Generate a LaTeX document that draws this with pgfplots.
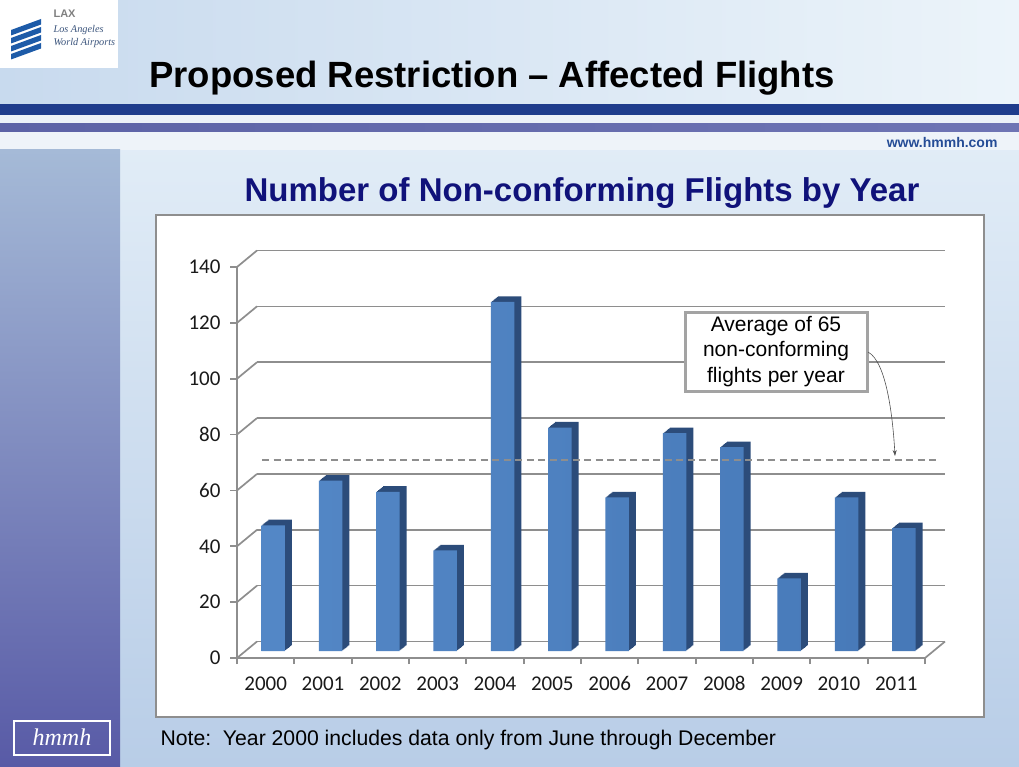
\documentclass[border=0pt]{standalone}
\usepackage{fontspec}
\setmainfont{Liberation Sans}
\newfontfamily\calibri{Carlito}
\newfontfamily\logoserif{Liberation Serif}
\usepackage{pgfplots}
\pgfplotsset{compat=1.18}
\usepackage{pgfplotstable}
\usetikzlibrary{arrows.meta}

\definecolor{barfront}{HTML}{4779B8}
\definecolor{barlight}{HTML}{5387C6}
\definecolor{barside}{HTML}{2C4C7A}
\definecolor{gridgray}{HTML}{8E8E8E}
\definecolor{boxgray}{HTML}{A3A3A3}
\definecolor{arrowgray}{HTML}{505050}
\definecolor{ticktext}{HTML}{1A1A1A}
\definecolor{navy}{HTML}{1F3C8C}
\definecolor{purpleband}{HTML}{5C62A6}
\definecolor{purplelight}{HTML}{6E74B4}
\definecolor{titlenavy}{HTML}{10127A}
\definecolor{urlblue}{HTML}{254C96}
\definecolor{laxblue}{HTML}{1D5BA8}
\definecolor{laxtext}{HTML}{3C557D}
\definecolor{bgtop}{HTML}{E2EDF7}
\definecolor{bgbottom}{HTML}{B8CDE7}
\definecolor{hdrleft}{HTML}{C8DAEE}
\definecolor{hdrright}{HTML}{ECF4FA}
\definecolor{gapband}{HTML}{ECF1F8}
\definecolor{paleband}{HTML}{EEF3F9}
\definecolor{stripa}{HTML}{A5BAD7}
\definecolor{stripb}{HTML}{6286B3}
\definecolor{stripc}{HTML}{585AA6}

% number of non-conforming flights per year
\pgfplotstableread{
idx year count
0 2000 45
1 2001 61
2 2002 57
3 2003 36
4 2004 125
5 2005 80
6 2006 55
7 2007 78
8 2008 73
9 2009 26
10 2010 55
11 2011 44
}\flights

\begin{document}
\begin{tikzpicture}[x=1pt,y=1pt]
\path[use as bounding box] (0,0) rectangle (1019,-767);

% slide background
\shade[top color=bgtop, bottom color=bgbottom] (0,-132) rectangle (1019,-767);
\shade[left color=hdrleft, right color=hdrright] (0,0) rectangle (1019,-104);
\fill[white] (0,0) rectangle (118,-68);
\fill[navy] (0,-104) rectangle (1019,-115);
\fill[gapband] (0,-115) rectangle (1019,-124);
\shade[left color=purpleband, right color=purplelight] (0,-124) rectangle (1019,-132);
\fill[paleband] (0,-132) rectangle (1019,-150);
\shade[top color=stripa, middle color=stripb, bottom color=stripc] (0,-150) rectangle (120,-767);

% LAX logo
\foreach \i in {0,1,2,3}{
  \fill[laxblue] (11,{-30-8*\i}) -- (41,{-19-8*\i}) -- (41,{-24.5-8*\i}) -- (11,{-35.5-8*\i}) -- cycle;
}
\node[anchor=west, text=gray, font=\bfseries\fontsize{11}{11}\selectfont] at (50,-14) {LAX};
\node[anchor=west, text=laxtext, font=\logoserif\itshape\fontsize{10.3}{10.3}\selectfont] at (50,-30) {Los Angeles};
\node[anchor=west, text=laxtext, font=\logoserif\itshape\fontsize{10.3}{10.3}\selectfont] at (50,-43) {World Airports};

% hmmh logo
\draw[white, line width=1.5] (14,-721) rectangle (110,-755);
\node[text=white, font=\logoserif\itshape\fontsize{24}{24}\selectfont] at (62,-737) {hmmh};

% titles
\node[font=\bfseries\fontsize{36.5}{36.5}\selectfont] at (492,-78) {Proposed Restriction -- Affected Flights};
\node[anchor=east, text=urlblue, font=\bfseries\fontsize{14}{14}\selectfont] at (1001,-142) {www.hmmh.com};
\node[text=titlenavy, font=\bfseries\fontsize{33}{33}\selectfont] at (582,-193) {Number of Non-conforming Flights by Year};

% chart area
\filldraw[fill=white, draw=gridgray, line width=2] (156,-215) rectangle (984,-717);

\begin{axis}[
  at={(237pt,-658pt)}, anchor=south west, scale only axis,
  width=688pt, height=391pt,
  xmin=-0.5, xmax=11.5, ymin=0, ymax=140,
  clip=false,
  axis x line*=bottom, axis y line*=left,
  axis line style={draw=gridgray, line width=1.7pt},
  xtick={0,...,11},
  xticklabels={2000,2001,2002,2003,2004,2005,2006,2007,2008,2009,2010,2011},
  major x tick style={draw=none},
  minor xtick={-0.5,0.5,...,11.5},
  minor x tick style={draw=gridgray, line width=1.7pt},
  minor tick length=6pt,
  ytick={0,20,...,140},
  ytick style={draw=gridgray, line width=1.7pt},
  major tick length=7pt,
  tick align=outside,
  ymajorgrids,
  major grid style={draw=gridgray, line width=1.7pt, xshift=20pt, yshift=16.5pt},
  /pgf/number format/assume math mode=true,
  ticklabel style={font=\calibri\fontsize{21}{21}\selectfont, text=ticktext},
  xticklabel style={yshift=-8pt},
  yticklabel style={xshift=-6pt},
]
% side walls of the plot
\pgfplotsinvokeforeach{0,20,...,140}{
  \draw[gridgray, line width=1.7pt] (axis cs:-0.5,#1) -- ++(20pt,16.5pt);
}
\draw[gridgray, line width=1.7pt] (axis cs:11.5,0) -- ++(20pt,16.5pt);

% depth of the bars
\pgfplotsinvokeforeach{7,6,...,1}{
  \addplot[ybar, bar shift=0pt, bar width=23.5pt, fill=barside, draw=none,
    xshift={7.5pt+#1pt}, yshift={7pt+0.8*#1pt}]
    table[x=idx, y=count] {\flights};
}
% front faces
\addplot[ybar, bar shift=0pt, bar width=23.5pt, draw=none,
  left color=barlight, right color=barfront, xshift=7.5pt, yshift=7pt]
  table[x=idx, y=count] {\flights};

% average line
\addplot[gridgray, line width=1.6pt, dash pattern=on 7pt off 4.5pt, xshift=20pt, yshift=16.5pt]
  coordinates {(-0.41,65) (11.38,65)};
\end{axis}

% annotation
\node[draw=boxgray, line width=3, fill=white,
  minimum width=182, minimum height=79, align=center,
  font=\fontsize{21}{25.5}\selectfont] at (776,-351.5)
  {Average of 65\\non-conforming\\flights per year};
\draw[arrowgray, line width=0.6, -{Stealth[length=6pt,width=4pt]}]
  (868,-352) .. controls (887,-362) and (893,-420) .. (895,-456);

% note
\node[anchor=base west, font=\fontsize{21.2}{21.2}\selectfont] at (157,-745)
  {Note:\ \ Year 2000 includes data only from June through December};
\end{tikzpicture}
\end{document}
